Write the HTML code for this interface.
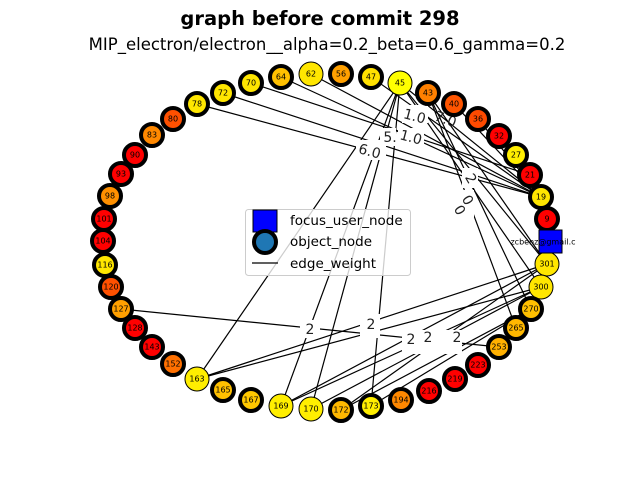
<!DOCTYPE html>
<html><head><style>
body{margin:0;background:#fff;width:640px;height:480px;overflow:hidden}
svg text{font-family:"DejaVu Sans","Liberation Sans",sans-serif}
</style></head><body>
<svg width="640" height="480" viewBox="0 0 640 480" xmlns="http://www.w3.org/2000/svg">
<text x="320" y="25" text-anchor="middle" font-size="19.5" font-weight="bold">graph before commit 298</text>
<text x="327" y="50" text-anchor="middle" font-size="16.5">MIP_electron/electron__alpha=0.2_beta=0.6_gamma=0.2</text>
<g stroke="#000" stroke-width="1.2">
<line x1="197" y1="104" x2="541" y2="197"/>
<line x1="223" y1="93" x2="541" y2="197"/>
<line x1="251" y1="83" x2="530" y2="175"/>
<line x1="281" y1="77" x2="541" y2="197"/>
<line x1="311" y1="74" x2="541" y2="197"/>
<line x1="371" y1="77" x2="541" y2="197"/>
<line x1="400" y1="83" x2="541" y2="197"/>
<line x1="454" y1="104" x2="541" y2="197"/>
<line x1="478" y1="119" x2="541" y2="197"/>
<line x1="400" y1="83" x2="197" y2="379"/>
<line x1="400" y1="83" x2="281" y2="406"/>
<line x1="400" y1="83" x2="311" y2="409"/>
<line x1="400" y1="83" x2="371" y2="406"/>
<line x1="400" y1="83" x2="547" y2="264"/>
<line x1="400" y1="83" x2="541" y2="287"/>
<line x1="428" y1="93" x2="531" y2="309"/>
<line x1="428" y1="93" x2="516" y2="328"/>
<line x1="428" y1="93" x2="547" y2="264"/>
<line x1="121" y1="309" x2="499" y2="347"/>
<line x1="197" y1="379" x2="547" y2="264"/>
<line x1="197" y1="379" x2="541" y2="287"/>
<line x1="281" y1="406" x2="547" y2="264"/>
<line x1="281" y1="406" x2="541" y2="287"/>
<line x1="311" y1="409" x2="541" y2="287"/>
<line x1="341" y1="410" x2="531" y2="309"/>
<line x1="371" y1="406" x2="531" y2="309"/>
<line x1="341" y1="410" x2="547" y2="264"/>
</g>
<g font-size="14" fill="#222" text-anchor="middle">
<g fill="#fff"><rect x="402" y="105" width="26" height="18"/><rect x="398" y="128" width="26" height="18"/><rect x="380" y="128" width="16" height="18"/><rect x="356" y="140" width="30" height="20"/><rect x="462" y="168" width="16" height="20"/><rect x="456" y="190" width="18" height="28"/><rect x="300" y="320" width="20" height="18"/><rect x="360" y="314" width="20" height="24"/><rect x="402" y="330" width="60" height="24"/></g>
<text x="415" y="121" transform="rotate(15 415 115)">1.0</text>
<text x="446" y="124" transform="rotate(20 446 118)">7.0</text>
<text x="411" y="142" transform="rotate(15 411 137)">1.0</text>
<text x="390" y="142">5.</text>
<text x="370" y="156" transform="rotate(15 370 150)">6.0</text>
<text x="472" y="184" transform="rotate(60 472 178)">2</text>
<text x="468" y="205" transform="rotate(60 468 200)">0</text>
<text x="460" y="215" transform="rotate(60 460 210)">0</text>
<text x="310" y="334">2</text>
<text x="371" y="329">2</text>
<text x="411" y="344">2</text>
<text x="428" y="342">2</text>
<text x="457" y="342">2</text>
</g>
<g font-size="8" text-anchor="middle" dominant-baseline="central">
<g stroke="#000">
<circle cx="311" cy="74" r="12" fill="#ffe600" stroke-width="1"/>
<circle cx="341" cy="74" r="11" fill="#ffa000" stroke-width="4"/>
<circle cx="371" cy="77" r="11" fill="#ffe000" stroke-width="4"/>
<circle cx="400" cy="83" r="12" fill="#ffff00" stroke-width="1"/>
<circle cx="428" cy="93" r="11" fill="#ff8000" stroke-width="4"/>
<circle cx="454" cy="104" r="11" fill="#ff5500" stroke-width="4"/>
<circle cx="478" cy="119" r="11" fill="#ff4a00" stroke-width="4"/>
<circle cx="499" cy="136" r="11" fill="#ff0000" stroke-width="4"/>
<circle cx="516" cy="155" r="11" fill="#ffee00" stroke-width="4"/>
<circle cx="530" cy="175" r="11" fill="#ff0000" stroke-width="4"/>
<circle cx="541" cy="197" r="11" fill="#ffe600" stroke-width="4"/>
<circle cx="547" cy="219" r="11" fill="#ff0000" stroke-width="4"/>
<circle cx="547" cy="264" r="12" fill="#ffe600" stroke-width="1"/>
<circle cx="541" cy="287" r="12" fill="#ffe600" stroke-width="1"/>
<circle cx="531" cy="309" r="11" fill="#ffc000" stroke-width="4"/>
<circle cx="516" cy="328" r="11" fill="#ffb800" stroke-width="4"/>
<circle cx="499" cy="347" r="11" fill="#ffb000" stroke-width="4"/>
<circle cx="478" cy="365" r="11" fill="#ff0000" stroke-width="4"/>
<circle cx="455" cy="379" r="11" fill="#ff0000" stroke-width="4"/>
<circle cx="429" cy="391" r="11" fill="#ff0000" stroke-width="4"/>
<circle cx="401" cy="400" r="11" fill="#ff8800" stroke-width="4"/>
<circle cx="371" cy="406" r="11" fill="#ffee00" stroke-width="4"/>
<circle cx="341" cy="410" r="11" fill="#ffb800" stroke-width="4"/>
<circle cx="311" cy="409" r="12" fill="#ffee00" stroke-width="1"/>
<circle cx="281" cy="406" r="12" fill="#ffee00" stroke-width="1"/>
<circle cx="251" cy="400" r="11" fill="#ffc800" stroke-width="4"/>
<circle cx="223" cy="390" r="11" fill="#ffc000" stroke-width="4"/>
<circle cx="197" cy="379" r="12" fill="#ffee00" stroke-width="1"/>
<circle cx="173" cy="364" r="11" fill="#ff7000" stroke-width="4"/>
<circle cx="152" cy="347" r="11" fill="#ff0000" stroke-width="4"/>
<circle cx="135" cy="328" r="11" fill="#ff0000" stroke-width="4"/>
<circle cx="121" cy="309" r="11" fill="#ffa000" stroke-width="4"/>
<circle cx="111" cy="287" r="11" fill="#ff5000" stroke-width="4"/>
<circle cx="105" cy="265" r="11" fill="#ffe600" stroke-width="4"/>
<circle cx="103" cy="241" r="11" fill="#ff0000" stroke-width="4"/>
<circle cx="104" cy="219" r="11" fill="#ff0000" stroke-width="4"/>
<circle cx="110" cy="196" r="11" fill="#ff9000" stroke-width="4"/>
<circle cx="121" cy="174" r="11" fill="#ff0000" stroke-width="4"/>
<circle cx="135" cy="155" r="11" fill="#ff0000" stroke-width="4"/>
<circle cx="152" cy="135" r="11" fill="#ff8800" stroke-width="4"/>
<circle cx="173" cy="119" r="11" fill="#ff5000" stroke-width="4"/>
<circle cx="197" cy="104" r="11" fill="#ffe600" stroke-width="4"/>
<circle cx="223" cy="93" r="11" fill="#ffe600" stroke-width="4"/>
<circle cx="251" cy="83" r="11" fill="#ffe600" stroke-width="4"/>
<circle cx="281" cy="77" r="11" fill="#ffc000" stroke-width="4"/>
<rect x="539" y="230" width="23" height="23" fill="#0000ff" stroke-width="1"/>
</g>
<text x="311" y="74">62</text><text x="341" y="74">56</text><text x="371" y="77">47</text><text x="400" y="83">45</text><text x="428" y="93">43</text><text x="454" y="104">40</text><text x="478" y="119">36</text><text x="499" y="136">32</text><text x="516" y="155">27</text><text x="530" y="175">21</text><text x="541" y="197">19</text><text x="547" y="219">9</text><text x="547" y="264">301</text><text x="541" y="287">300</text><text x="531" y="309">270</text><text x="516" y="328">265</text><text x="499" y="347">253</text><text x="478" y="365">223</text><text x="455" y="379">219</text><text x="429" y="391">216</text><text x="401" y="400">194</text><text x="371" y="406">173</text><text x="341" y="410">172</text><text x="311" y="409">170</text><text x="281" y="406">169</text><text x="251" y="400">167</text><text x="223" y="390">165</text><text x="197" y="379">163</text><text x="173" y="364">152</text><text x="152" y="347">143</text><text x="135" y="328">128</text><text x="121" y="309">127</text><text x="111" y="287">120</text><text x="105" y="265">116</text><text x="103" y="241">104</text><text x="104" y="219">101</text><text x="110" y="196">98</text><text x="121" y="174">93</text><text x="135" y="155">90</text><text x="152" y="135">83</text><text x="173" y="119">80</text><text x="197" y="104">78</text><text x="223" y="93">72</text><text x="251" y="83">70</text><text x="281" y="77">64</text>
<text x="543" y="242" font-size="8">zcbenz@gmail.c</text>
</g>
<g>
<rect x="245.5" y="209.5" width="165" height="66" rx="3" fill="#fff" fill-opacity="0.8" stroke="#ccc"/>
<rect x="253" y="210" width="24" height="22" fill="#0000ff" stroke="#000" stroke-width="1"/>
<circle cx="265" cy="242" r="11" fill="#1f77b4" stroke="#000" stroke-width="4"/>
<line x1="252" y1="263" x2="278" y2="263" stroke="#000" stroke-width="1.2"/>
<g font-size="13.5" fill="#000">
<text x="290" y="225">focus_user_node</text>
<text x="290" y="246">object_node</text>
<text x="290" y="268">edge_weight</text>
</g>
</g>
</svg>
</body></html>
